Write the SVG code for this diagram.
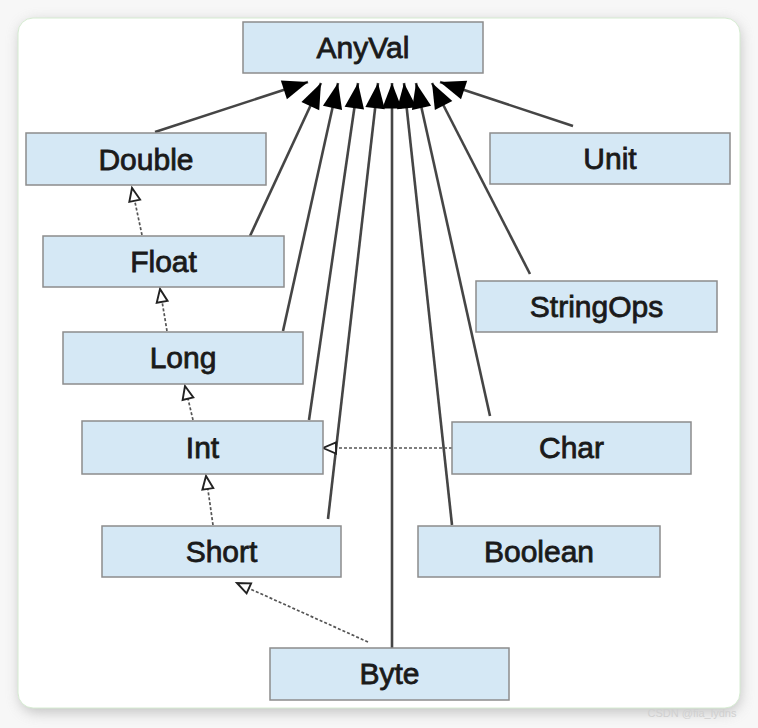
<svg xmlns="http://www.w3.org/2000/svg" width="758" height="728" viewBox="0 0 758 728">
  <style>
    .box { fill: #d5e8f5; stroke: #8c8c8c; stroke-width: 1.5; }
    .lbl { font-family: "Liberation Sans", Arial, sans-serif; font-size: 30px; fill: #1a1a1a; text-anchor: middle; stroke: #1a1a1a; stroke-width: 0.8; }
    .inh { stroke: #454545; stroke-width: 2.6; fill: none; marker-end: url(#solidHead); }
    .conv { stroke: #555; stroke-width: 1.7; stroke-dasharray: 3 2; fill: none; marker-end: url(#openHead); }
  </style>
  <defs>
    <filter id="shadow" x="-10%" y="-10%" width="120%" height="120%">
      <feGaussianBlur stdDeviation="7"/>
    </filter>
    <marker id="solidHead" markerUnits="userSpaceOnUse" markerWidth="30" markerHeight="24" viewBox="-24 -10 26 20" refX="0" refY="0" orient="auto">
      <path d="M0,0 L-22,-8.5 L-22,8.5 Z" fill="#000"/>
    </marker>
    <marker id="openHead" markerUnits="userSpaceOnUse" markerWidth="20" markerHeight="16" viewBox="-16 -8 18 16" refX="0" refY="0" orient="auto">
      <path d="M0,0 L-13,-5.5 L-13,5.5 Z" fill="#fff" stroke="#222" stroke-width="1.9" stroke-linejoin="miter"/>
    </marker>
  </defs>

  <rect x="0" y="0" width="758" height="728" fill="#f7f7f7"/>
  <rect x="20" y="22" width="720" height="690" rx="16" fill="#9a9a9a" opacity="0.6" filter="url(#shadow)"/>
  <rect x="18" y="18" width="722" height="690" rx="15" fill="#ffffff" stroke="#d6ecd2" stroke-width="1"/>

  <g id="connectors">
    <line class="inh" x1="155" y1="132" x2="308" y2="82"/>
    <line class="inh" x1="250" y1="236" x2="321" y2="83"/>
    <line class="inh" x1="283" y1="331" x2="338" y2="83"/>
    <line class="inh" x1="309" y1="420" x2="358" y2="83"/>
    <line class="inh" x1="328" y1="519" x2="378" y2="83"/>
    <line class="inh" x1="392" y1="648" x2="392" y2="83"/>
    <line class="inh" x1="452" y1="525" x2="404" y2="83"/>
    <line class="inh" x1="490" y1="416" x2="416" y2="83"/>
    <line class="inh" x1="530" y1="274" x2="432" y2="83"/>
    <line class="inh" x1="573" y1="126" x2="440" y2="82"/>

    <line class="conv" x1="142" y1="235" x2="132" y2="188"/>
    <line class="conv" x1="167" y1="331" x2="160" y2="289"/>
    <line class="conv" x1="193" y1="420" x2="185" y2="386"/>
    <line class="conv" x1="213" y1="525" x2="206" y2="476"/>
    <line class="conv" x1="368" y1="642" x2="237" y2="583"/>
    <line class="conv" x1="452" y1="448" x2="323" y2="448"/>
  </g>

  <g id="AnyVal"><rect class="box" x="243" y="22" width="240" height="51"/><text class="lbl" x="363" y="58">AnyVal</text></g>
  <g id="Double"><rect class="box" x="26" y="133" width="240" height="52"/><text class="lbl" x="146" y="169.5">Double</text></g>
  <g id="Unit"><rect class="box" x="490" y="133" width="240" height="51"/><text class="lbl" x="610" y="169">Unit</text></g>
  <g id="Float"><rect class="box" x="43" y="236" width="241" height="51"/><text class="lbl" x="163.5" y="272">Float</text></g>
  <g id="StringOps"><rect class="box" x="476" y="281" width="241" height="51"/><text class="lbl" x="596.5" y="317">StringOps</text></g>
  <g id="Long"><rect class="box" x="63" y="332" width="240" height="52"/><text class="lbl" x="183" y="368">Long</text></g>
  <g id="Int"><rect class="box" x="82" y="421" width="241" height="53"/><text class="lbl" x="202.5" y="458">Int</text></g>
  <g id="Char"><rect class="box" x="452" y="422" width="239" height="52"/><text class="lbl" x="571.5" y="458">Char</text></g>
  <g id="Short"><rect class="box" x="102" y="526" width="239" height="51"/><text class="lbl" x="221.5" y="562">Short</text></g>
  <g id="Boolean"><rect class="box" x="418" y="526" width="242" height="51"/><text class="lbl" x="539" y="562">Boolean</text></g>
  <g id="Byte"><rect class="box" x="270" y="648" width="239" height="52"/><text class="lbl" x="389.5" y="684">Byte</text></g>

  <text x="692" y="717" font-family="Liberation Sans, Arial, sans-serif" font-size="11" fill="#d0d0d0" text-anchor="middle">CSDN @fia_lydns</text>
</svg>
